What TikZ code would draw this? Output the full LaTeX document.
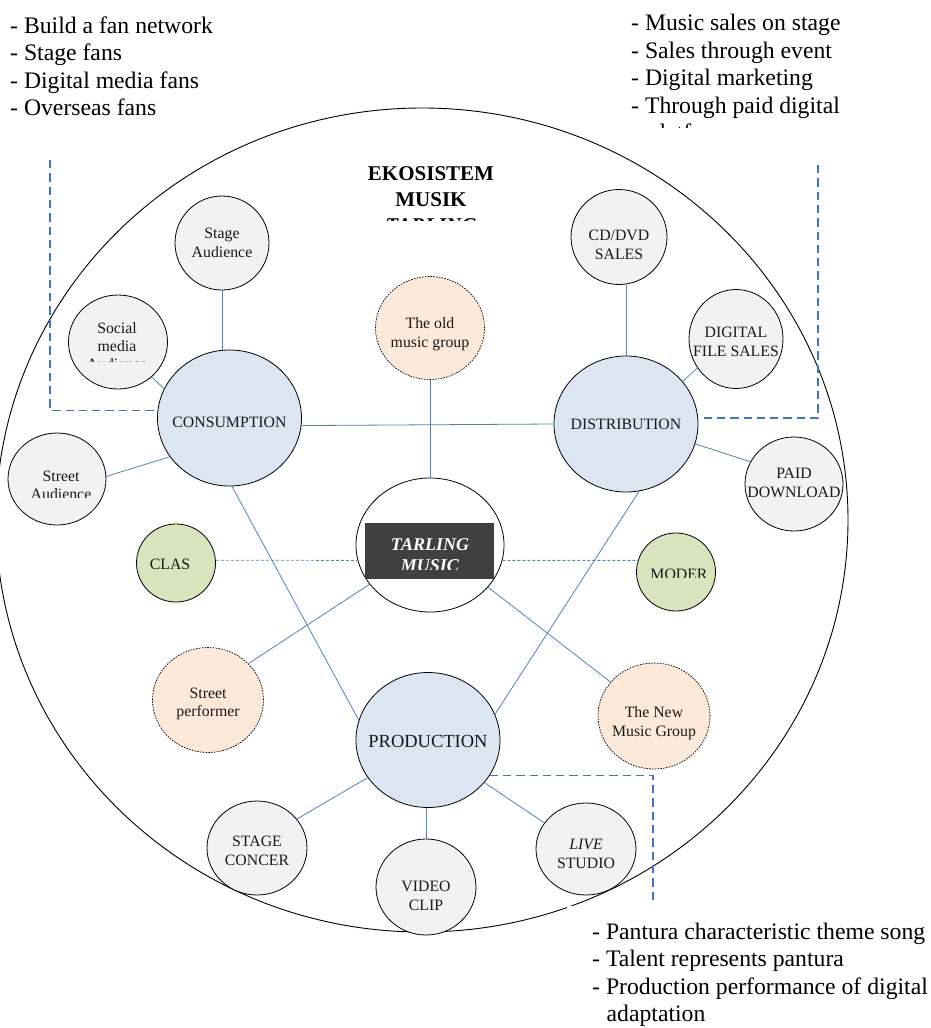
\documentclass[tikz,border=0pt]{standalone}
\usepackage{fontspec}
\setmainfont{Liberation Serif}
\usetikzlibrary{shapes.geometric}
\definecolor{lnblue}{HTML}{4F81BD}
\definecolor{dashblue}{HTML}{4472C4}
\definecolor{greyfill}{HTML}{F2F2F2}
\definecolor{bluefill}{HTML}{DCE6F2}
\definecolor{greenfill}{HTML}{D7E4BD}
\definecolor{peachfill}{HTML}{FDE9D9}
\definecolor{boxgrey}{HTML}{404040}
\begin{document}
\begin{tikzpicture}[x=1pt,y=-1pt,
  bub/.style={ellipse, draw=black, line width=0.8pt, inner sep=0pt},
  smallbub/.style={bub, fill=greyfill},
  bigbub/.style={bub, fill=bluefill, minimum width=144, minimum height=136},
  greenbub/.style={bub, fill=greenfill, minimum width=79, minimum height=78},
  peachbub/.style={bub, fill=peachfill, line width=0.7pt, dash pattern=on 1.6pt off 1.2pt},
  txt/.style={font=\fontsize{15.8}{18.5}\selectfont, align=center, inner sep=0pt, text=black!90},
  basetxt/.style={font=\fontsize{15.8}{18.5}\selectfont, anchor=base, inner sep=0pt, text=black!90},
  outer/.style={font=\fontsize{23.7}{27.4}\selectfont, anchor=base west, inner sep=0pt},
  link/.style={draw=lnblue, line width=0.8pt},
  dotlink/.style={draw=lnblue, line width=0.8pt, dash pattern=on 3pt off 2pt},
  bracket/.style={draw=dashblue, line width=1.7pt, dash pattern=on 8.3pt off 5pt}
]
\useasboundingbox (0,0) rectangle (931,1028);

% outer ecosystem ellipse
\draw[line width=0.9pt] (422,520) ellipse [x radius=426, y radius=412];
\fill[white] (567,905.5) rectangle (931,1028);

% title (clipped)
\begin{scope}
  \clip (340,150) rectangle (520,220);
  \node[font=\fontsize{21}{26}\selectfont\bfseries, anchor=base, inner sep=0pt] (t1) at (431,180.7) {EKOSISTEM};
  \node[font=\fontsize{21}{26}\selectfont\bfseries, anchor=base, inner sep=0pt] (t2) at (431,206.7) {MUSIK};
  \node[font=\fontsize{21}{26}\selectfont\bfseries\itshape, anchor=base, inner sep=0pt] (t3) at (431,232.7) {TARLING};
\end{scope}

% consumption cluster
\node[bigbub, label={[txt, yshift=-4pt]center:CONSUMPTION}] (cons) at (229.5,418) {};
\node[smallbub, minimum width=94, minimum height=94, label={[txt]center:Stage\\Audience}] (stage) at (222,243) {};
\node[smallbub, minimum width=99, minimum height=94] (social) at (118,342) {};
\begin{scope}
  \clip (60,290) rectangle (180,361);
  \node[basetxt] (social1) at (117,333) {Social};
  \node[basetxt] (social2) at (117,351) {media};
  \node[basetxt] (social3) at (117,369.5) {Audience};
\end{scope}
\node[smallbub, minimum width=98, minimum height=92] (street) at (57,479) {};
\begin{scope}
  \clip (0,430) rectangle (120,497.5);
  \node[basetxt] (street1) at (61,481) {Street};
  \node[basetxt] (street2) at (61,499.5) {Audience};
\end{scope}

% distribution cluster
\node[bigbub, label={[txt]center:DISTRIBUTION}] (dist) at (626,424) {};
\node[smallbub, minimum width=96, minimum height=95, label={[txt, yshift=-8pt]center:CD/DVD\\SALES}] (cd) at (619,237) {};
\node[smallbub, minimum width=94, minimum height=99, label={[txt, yshift=-3pt]center:DIGITAL\\FILE SALES}] (dfs) at (736,339) {};
\node[smallbub, minimum width=98, minimum height=94, label={[txt, yshift=1pt]center:PAID\\DOWNLOAD}] (paid) at (794,484) {};

% centre
\node[peachbub, minimum width=109, minimum height=103, label={[txt, yshift=-6pt]center:The old\\music group}] (old) at (430,328) {};
\node[bub, fill=white, minimum width=148, minimum height=134] (tarling) at (430,545) {};
\node[fill=boxgrey, inner sep=0pt, minimum width=129, minimum height=56] (tbox) at (429.5,551) {};
\begin{scope}
  \clip (365,523) rectangle (494,569.5);
  \node[font=\fontsize{18}{21}\selectfont\bfseries\itshape, text=white, anchor=base, inner sep=0pt] (tm1) at (430,550) {TARLING};
  \node[font=\fontsize{18}{21}\selectfont\bfseries\itshape, text=white, anchor=base, inner sep=0pt] (tm2) at (430,571) {MUSIC};
\end{scope}
\node[greenbub, label={[txt, xshift=-6pt, yshift=-1pt]center:CLAS}] (clas) at (176,563) {};
\node[greenbub] (moder) at (676,572) {};
\begin{scope}
  \clip (637,533) rectangle (716,577.5);
  \node[basetxt] (modert) at (679,579) {MODER};
\end{scope}
\node[peachbub, minimum width=111, minimum height=105, label={[txt, yshift=-4pt]center:Street\\performer}] (sperf) at (208,700) {};
\node[peachbub, minimum width=112, minimum height=106, label={[txt, yshift=-7pt]center:The New\\Music Group}] (newg) at (654,716) {};

% production cluster
\node[bigbub, minimum height=135, label={[txt, font=\fontsize{18.5}{21}\selectfont, yshift=-1pt]center:PRODUCTION}] (prod) at (428,740) {};
\node[smallbub, minimum width=100, minimum height=94, label={[txt, yshift=-3pt]center:STAGE\\CONCER}] (sc) at (257,848) {};
\node[smallbub, minimum width=100, minimum height=96, label={[txt, yshift=-9pt]center:VIDEO\\CLIP}] (vc) at (426,887) {};
\node[smallbub, minimum width=100, minimum height=92, label={[txt, yshift=-5pt]center:\textit{LIVE}\\STUDIO}] (live) at (586,849) {};

% connectors
\draw[link] (stage.south) -- (cons.north -| stage.south);
\draw[link] (social.314) -- (cons.156);
\draw[link] (street.3) -- (cons.213);
\draw[link] (cons.-6) -- (dist.west);
\draw[link] (dist.north |- cd.south) -- (dist.north);
\draw[link] (dfs.217) -- (dist.37.5);
\draw[link] (dist.-16) -- (paid.153);
\draw[link] (old.south) -- (tarling.north);
\draw[link] (cons.272) -- (prod.164);
\draw[link] (dist.281) -- (prod.21);
\draw[dotlink] (clas.4) -- (tarling.192);
\draw[dotlink] (tarling.-12) -- (moder.163);
\draw[link] (tarling.213.5) -- (sperf.42);
\draw[link] (tarling.324.6) -- (newg.142);
\draw[link] (prod.212) -- (sc.36);
\draw[link] (prod.south -| vc.north) -- (vc.north);
\draw[link] (prod.323) -- (live.148);

% dashed brackets
\coordinate (lbtop) at (50,160);
\draw[bracket] (lbtop) |- (cons.174);
\coordinate (rbtop) at (818,165);
\coordinate (rbend) at (704,418);
\draw[bracket] (rbtop) |- (rbend);
\coordinate (bbend) at (653,903);
\draw[bracket] (prod.-30) -| (bbend);

% outer notes
\node[outer] (n1) at (10,33.3) {- Build a fan network};
\node[outer] (n2) at (10,60.7) {- Stage fans};
\node[outer] (n3) at (10,88.3) {- Digital media fans};
\node[outer] (n4) at (10,115) {- Overseas fans};

\node[outer] (m1) at (631,30) {- Music sales on stage};
\node[outer] (m2) at (631,58.2) {- Sales through event};
\node[outer] (m3) at (631,85.8) {- Digital marketing};
\node[outer] (m4) at (631,113.3) {- Through paid digital};
\begin{scope}
  \clip (600,118) rectangle (931,127);
  \node[outer] (m5) at (647.5,140.7) {platform};
\end{scope}

\node[outer] (p1) at (592,939) {- Pantura characteristic theme song};
\node[outer] (p2) at (592,966.5) {- Talent represents pantura};
\node[outer] (p3) at (592,994) {- Production performance of digital};
\node[outer] (p4) at (606.5,1021.5) {adaptation};
\end{tikzpicture}
\end{document}
